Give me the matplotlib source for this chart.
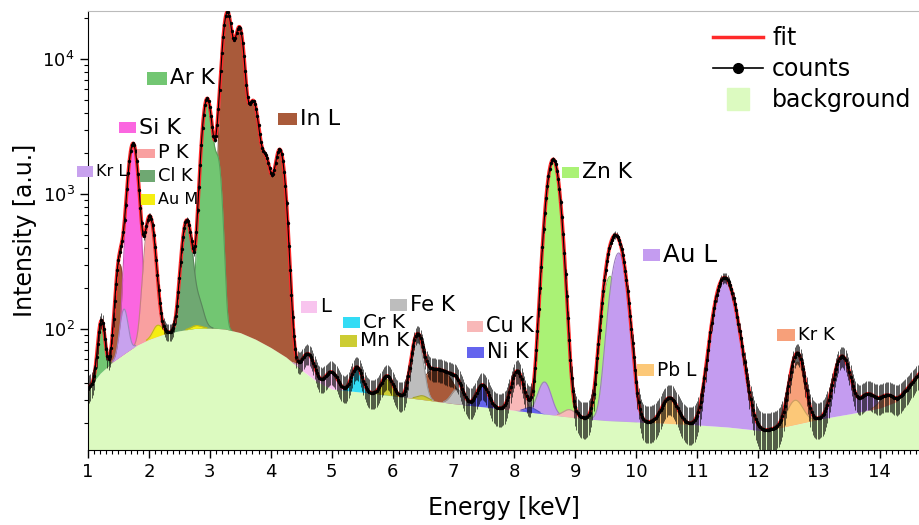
import numpy as np
import matplotlib.pyplot as plt
from matplotlib.lines import Line2D
from matplotlib.patches import Rectangle
from matplotlib.ticker import MultipleLocator
from matplotlib.colors import to_rgb

plt.rcParams['font.family'] = ['DejaVu Sans']

# background curve (keV, intensity)
bg_kev = [1.0, 1.2, 1.4, 1.6, 1.8, 2.0, 2.25, 2.5, 2.75, 3.0, 3.25, 3.5, 3.75, 4.0,
          4.25, 4.5, 4.75, 5.0, 5.5, 6.0, 6.5, 7.0, 7.5, 8.0, 8.5, 9.0, 9.5, 10.0,
          10.5, 11.0, 11.5, 12.1, 12.5, 13.0, 13.5, 14.0, 14.28, 14.45, 14.7]
bg_cts = [36, 47, 57, 66, 76, 84, 92, 97, 101, 102, 100, 94, 84, 73,
          62, 50, 41, 36, 34, 32, 30, 28, 26.5, 25, 23.5, 22, 21, 20.5,
          20, 19.5, 18.8, 17.6, 19.2, 21.5, 23.5, 26, 29, 36, 50]

# fitted components
elements = ['In L', 'Ar K', 'Si K', 'Zn K', 'P K', 'Cl K', 'Au L', 'Kr L', 'Fe K',
            'Kr K', 'Cu K', 'L', 'Cr K', 'Mn K', 'Ni K', 'Pb L', 'Au M']
colours = ['#a95a3a', '#72c672', '#fb66e0', '#aaf275', '#f9a0a0', '#6fa872', '#c49cf0',
           '#c8a2ee', '#bdbdbd', '#f7a07a', '#f8b8b8', '#f8c4ee', '#33dcf5', '#cccc33',
           '#6464ee', '#fcc878', '#f5ee10']

# emission lines: element, energy [keV], height, width
line_elem = ['In L'] * 8 + ['Ar K'] * 3 + ['Si K', 'P K', 'Cl K', 'Cl K', 'Kr L'] \
    + ['Au M'] * 3 + ['Zn K'] * 2 + ['Au L'] * 6 + ['Fe K'] * 2 + ['Kr K'] * 2 \
    + ['Cu K'] * 2 + ['L'] * 2 + ['Cr K'] * 2 + ['Mn K'] * 2 + ['Ni K'] * 2 + ['Pb L'] * 2
line_kev = [1.52, 3.287, 3.487, 3.713, 3.92, 4.15, 6.62, 6.88,
            1.22, 2.957, 3.14,
            1.74, 2.013, 2.622, 2.815, 1.59,
            2.12, 2.2, 2.78,
            8.638, 9.572,
            8.494, 9.713, 11.43, 11.62, 13.38, 13.8,
            6.404, 7.058,
            12.65, 14.11,
            8.047, 8.905,
            4.62, 5.0,
            5.414, 5.947,
            5.899, 6.49,
            7.478, 8.265,
            10.55, 12.61]
line_amp = [240, 22000, 16800, 4700, 1660, 2050, 16, 15,
            68, 5000, 1500,
            2300, 600, 540, 60, 75,
            14, 8, 5,
            1780, 225,
            17, 345, 200, 45, 40, 8,
            55, 8,
            37, 5,
            24, 3,
            20, 12,
            18, 3,
            10, 2,
            12, 2,
            11, 10]
line_sig = [0.06, 0.07, 0.07, 0.08, 0.08, 0.08, 0.15, 0.15,
            0.05, 0.075, 0.055,
            0.075, 0.075, 0.075, 0.075, 0.06,
            0.06, 0.06, 0.08,
            0.1, 0.11,
            0.1, 0.12, 0.15, 0.15, 0.12, 0.12,
            0.085, 0.09,
            0.1, 0.11,
            0.09, 0.1,
            0.09, 0.09,
            0.08, 0.08,
            0.085, 0.085,
            0.09, 0.09,
            0.12, 0.12]

# peak labels: text, rectangle left / centre in pixels, rectangle size, font size
lab_text = ['Ar K', 'In L', 'Si K', 'P K', 'Kr L', 'Cl K', 'Au M', 'L', 'Cr K', 'Mn K',
            'Fe K', 'Cu K', 'Ni K', 'Zn K', 'Au L', 'Pb L', 'Kr K']
lab_x = [147, 278, 119, 137, 77, 140, 141, 301, 343, 340, 390, 467, 467, 562, 643, 637, 777]
lab_y = [78, 119, 128, 153, 171, 176, 199, 307, 322, 341, 305, 326, 352, 172, 255, 370, 335]
lab_w = [20, 19, 17, 18, 16, 15, 14, 16, 17, 17, 17, 16, 17, 17, 17, 17, 18]
lab_h = [13, 12, 11, 9, 11, 12, 11, 12, 11, 12, 12, 11, 11, 11, 12, 12, 12]
lab_size = [15.6, 16, 16, 14, 11.5, 12.9, 11.5, 14, 14.5, 14.3, 15.3, 15, 15, 15.7, 17.7, 13.4, 13]

bg_colour = '#dcfac0'
W, H = 920, 525

E = np.arange(1.0, 14.68, 0.01)
bg = 10 ** np.interp(E, bg_kev, np.log10(bg_cts))

comps = {el: np.zeros_like(E) for el in elements}
for el, e0, a, s in zip(line_elem, line_kev, line_amp, line_sig):
    comps[el] += a * np.exp(-0.5 * ((E - e0) / s) ** 2)
fit = bg + sum(comps.values())

fig = plt.figure(figsize=(W / 100, H / 100), dpi=100)
ax = fig.add_axes([88 / W, 75 / H, 832 / W, 439 / H])
ax.set_yscale('log')

col = dict(zip(elements, colours))
for el in sorted(elements, key=lambda k: -comps[k].max()):
    c = comps[el]
    ax.fill_between(E, bg, bg + c, color=col[el], lw=0, zorder=2)
    edge = tuple(v * 0.8 for v in to_rgb(col[el]))
    ax.plot(E, np.where(c > 0.4, bg + c, np.nan), color=edge, lw=0.8, zorder=2)

ax.fill_between(E, 1, bg, color=bg_colour, lw=0, zorder=1)
ax.plot(E, fit, color='#ff2a2a', lw=2.6, zorder=3)

ch = E[::2]
cts = fit[::2]
ax.errorbar(ch, cts, yerr=1.4 * np.sqrt(cts), fmt='-o', color='k', ms=1.4, lw=0.8,
            elinewidth=0.45, capsize=0, zorder=4)

ax.set_xlim(1, 14.66)
ax.set_ylim(12.7, 22700)
ax.set_xticks(range(1, 15))
ax.xaxis.set_minor_locator(MultipleLocator(0.1))
ax.tick_params(which='major', direction='out', length=6, labelsize=13, width=1)
ax.tick_params(which='minor', direction='out', length=3, width=0.8)
ax.spines['right'].set_visible(False)
ax.spines['top'].set_color('#bbbbbb')
ax.set_xlabel('Energy [keV]', fontsize=17, labelpad=11)
ax.set_ylabel('Intensity [a.u.]', fontsize=17, labelpad=4)

handles = [Line2D([], [], color='#ff2a2a', lw=2.5),
           Line2D([], [], color='k', lw=1.2, marker='o', ms=7),
           Line2D([], [], ls='none', marker='s', ms=16, color=bg_colour)]
ax.legend(handles, ['fit', 'counts', 'background'], loc='upper left',
          bbox_to_anchor=(713 / W, 1 - 26 / H), bbox_transform=fig.transFigure,
          frameon=False, fontsize=17, handlelength=2.1,
          handletextpad=0.4, labelspacing=0.3, borderaxespad=0, borderpad=0)

for t, x, y, w, h, fs in zip(lab_text, lab_x, lab_y, lab_w, lab_h, lab_size):
    fig.patches.append(Rectangle((x / W, 1 - (y + h / 2) / H), w / W, h / H,
                                 transform=fig.transFigure, color=col[t],
                                 lw=0, zorder=5))
    fig.text((x + w + 3) / W, 1 - y / H, t, fontsize=fs, va='center', ha='left', zorder=6)

fig.savefig('out.png', dpi=100)
